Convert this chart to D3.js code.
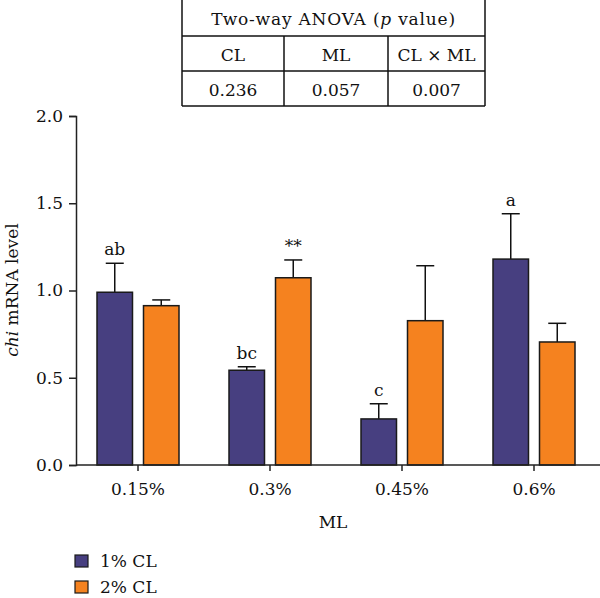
<!doctype html>
<head>
  <meta charset="utf-8">
  <script src="https://cdnjs.cloudflare.com/ajax/libs/d3/7.8.2/d3.min.js"></script>
</head>
<style>
    body { margin: 0; background: #fff; }
    svg text { font-family: "DejaVu Serif", serif; fill: #111; }
</style>
<body>
    <div id="chart"></div>
    <script>
        // Datos del gráfico
        const categories = ["0.15%", "0.3%", "0.45%", "0.6%"];
        const series = ["1% CL", "2% CL"];
        const means1 = [0.99, 0.543, 0.264, 1.18];
        const errs1 = [0.166, 0.02, 0.087, 0.26];
        const means2 = [0.913, 1.073, 0.827, 0.705];
        const errs2 = [0.033, 0.102, 0.315, 0.107];
        const letters1 = ["ab", "bc", "c", "a"];
        const letters2 = ["", "**", "", ""];
        const yTicks = [0, 0.5, 1.0, 1.5, 2.0];
        const tableHead = ["CL", "ML", "CL \u00d7 ML"];
        const tableVals = ["0.236", "0.057", "0.007"];

        const colors = ['#473f80', '#f5821f'];
        const fs = 17;

        const rows = categories.map((c, i) => ({
            cat: c,
            bars: [
                {s: series[0], v: means1[i], e: errs1[i], lab: letters1[i]},
                {s: series[1], v: means2[i], e: errs2[i], lab: letters2[i]},
            ]
        }));

        const svg = d3.select('#chart')
            .append('svg')
            .attr('width', 600)
            .attr('height', 598);

        // Escalas
        const x = d3.scaleBand().domain(categories).range([72, 600]);
        const x1 = d3.scaleBand().domain(series).range([0, 82]).paddingInner(0.2366);
        const y = d3.scaleLinear().domain([0, 2]).range([465, 116]);
        const off = (x.bandwidth() - 82) / 2;

        // Eje Y
        const yAxis = svg.append('g')
            .attr('transform', 'translate(76,0)')
            .call(d3.axisLeft(y).tickValues(yTicks).tickFormat(d3.format('.1f')).tickSizeOuter(0).tickSize(7).tickPadding(6));
        yAxis.select('.domain').attr('stroke', '#222').attr('stroke-width', 1.5);
        yAxis.selectAll('.tick line').attr('stroke', '#222').attr('stroke-width', 1.5);
        yAxis.selectAll('.tick text').attr('font-size', fs).attr('fill', '#111');

        // Barras
        const groups = svg.selectAll('.grp')
            .data(rows)
            .enter()
            .append('g')
            .attr('transform', d => `translate(${x(d.cat) + off},0)`);

        groups.selectAll('line.err')
            .data(d => d.bars)
            .enter()
            .append('line')
            .attr('x1', d => x1(d.s) + x1.bandwidth() / 2)
            .attr('x2', d => x1(d.s) + x1.bandwidth() / 2)
            .attr('y1', d => y(d.v))
            .attr('y2', d => y(d.v + d.e))
            .attr('stroke', '#111')
            .attr('stroke-width', 1.5);

        groups.selectAll('line.cap')
            .data(d => d.bars)
            .enter()
            .append('line')
            .attr('x1', d => x1(d.s) + x1.bandwidth() / 2 - 9)
            .attr('x2', d => x1(d.s) + x1.bandwidth() / 2 + 9)
            .attr('y1', d => y(d.v + d.e))
            .attr('y2', d => y(d.v + d.e))
            .attr('stroke', '#111')
            .attr('stroke-width', 1.5);

        groups.selectAll('rect')
            .data(d => d.bars)
            .enter()
            .append('rect')
            .attr('x', d => x1(d.s))
            .attr('width', x1.bandwidth())
            .attr('y', d => y(d.v))
            .attr('height', d => y(0) - y(d.v))
            .attr('fill', (d, i) => colors[i])
            .attr('stroke', '#1a1a1a')
            .attr('stroke-width', 1.5);

        groups.selectAll('text.lab')
            .data(d => d.bars)
            .enter()
            .append('text')
            .attr('x', d => x1(d.s) + x1.bandwidth() / 2)
            .attr('y', d => y(d.v + d.e) - 8)
            .attr('text-anchor', 'middle')
            .attr('font-size', fs)
            .text(d => d.lab);

        // Eje X
        const xAxis = svg.append('g')
            .attr('transform', 'translate(0,465)')
            .call(d3.axisBottom(x).tickSizeOuter(0).tickSize(6).tickPadding(12));
        xAxis.select('.domain').attr('d', 'M76,0H600').attr('stroke', '#222').attr('stroke-width', 1.5);
        xAxis.selectAll('.tick line').attr('stroke', '#222').attr('stroke-width', 1.5);
        xAxis.selectAll('.tick text').attr('font-size', fs).attr('fill', '#111');

        // Títulos de ejes
        svg.append('text')
            .attr('x', 333).attr('y', 528)
            .attr('text-anchor', 'middle')
            .attr('font-size', fs)
            .text('ML');

        const yl = svg.append('text')
            .attr('transform', 'translate(18,290) rotate(-90)')
            .attr('text-anchor', 'middle')
            .attr('font-size', fs);
        yl.append('tspan').attr('font-style', 'italic').text('chi');
        yl.append('tspan').text(' mRNA level');

        // Leyenda
        const leg = svg.selectAll('.leg')
            .data(series)
            .enter()
            .append('g')
            .attr('transform', (d, i) => `translate(75,${555 + i * 26})`);
        leg.append('rect')
            .attr('width', 13).attr('height', 12)
            .attr('fill', (d, i) => colors[i])
            .attr('stroke', '#1a1a1a').attr('stroke-width', 1.2);
        leg.append('text')
            .attr('x', 25).attr('y', 12)
            .attr('font-size', fs)
            .text(d => d);

        // Tabla ANOVA
        const tx = [182, 284, 388, 485];
        const ty = [0, 36, 71, 106];
        const tb = svg.append('g').attr('stroke', '#111').attr('stroke-width', 1.5);
        tb.append('line').attr('x1', tx[0]).attr('x2', tx[0]).attr('y1', 0).attr('y2', ty[3]);
        tb.append('line').attr('x1', tx[3]).attr('x2', tx[3]).attr('y1', 0).attr('y2', ty[3]);
        [ty[1], ty[2], ty[3]].forEach(yy => {
            tb.append('line').attr('x1', tx[0]).attr('x2', tx[3]).attr('y1', yy).attr('y2', yy);
        });
        [tx[1], tx[2]].forEach(xx => {
            tb.append('line').attr('x1', xx).attr('x2', xx).attr('y1', ty[1]).attr('y2', ty[3]);
        });

        const title = svg.append('text')
            .attr('x', (tx[0] + tx[3]) / 2).attr('y', 25)
            .attr('text-anchor', 'middle')
            .attr('font-size', fs)
            .attr('letter-spacing', 0.8);
        title.append('tspan').text('Two-way ANOVA (');
        title.append('tspan').attr('font-style', 'italic').text('p');
        title.append('tspan').text(' value)');

        svg.selectAll('.th')
            .data(tableHead)
            .enter()
            .append('text')
            .attr('x', (d, i) => (tx[i] + tx[i + 1]) / 2)
            .attr('y', 61)
            .attr('text-anchor', 'middle')
            .attr('font-size', fs)
            .text(d => d);

        svg.selectAll('.tv')
            .data(tableVals)
            .enter()
            .append('text')
            .attr('x', (d, i) => (tx[i] + tx[i + 1]) / 2)
            .attr('y', 96)
            .attr('text-anchor', 'middle')
            .attr('font-size', fs)
            .text(d => d);
    </script>
</body>
